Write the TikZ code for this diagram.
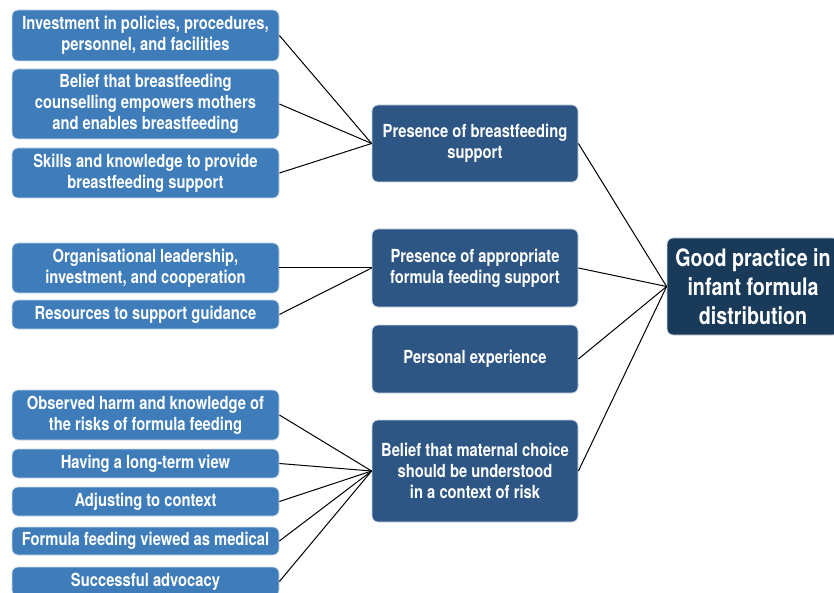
\documentclass[tikz,border=0pt]{standalone}
\usepackage{fontspec}
\setmainfont{TeX Gyre Heros}[FakeStretch=0.82]
\definecolor{leftblue}{RGB}{62,125,186}
\definecolor{midblue}{RGB}{45,86,132}
\definecolor{rightblue}{RGB}{26,58,90}
\definecolor{edgeline}{RGB}{205,218,232}

\begin{document}
\begin{tikzpicture}[x=1pt,y=-1pt,
  box/.style={draw=edgeline,line width=0.8pt,rounded corners=6pt,text=white,align=center,
    font=\bfseries\fontsize{18}{21}\selectfont,inner sep=2pt},
  leftbox/.style={box,fill=leftblue,minimum width=267pt},
  midbox/.style={box,fill=midblue,minimum width=206pt},
  goalbox/.style={box,fill=rightblue,minimum width=172pt,font=\bfseries\fontsize{24}{29}\selectfont}]
\useasboundingbox (0,0) rectangle (834,593);
\node[leftbox,minimum height=51pt,name=n00] at (145.5,35.5) {Investment in policies, procedures,\\personnel, and facilities};
\node[leftbox,minimum height=70pt,name=n01] at (145.5,104) {Belief that breastfeeding\\counselling empowers mothers\\and enables breastfeeding};
\node[leftbox,minimum height=50pt,name=n02] at (145.5,173) {Skills and knowledge to provide\\breastfeeding support};
\node[leftbox,minimum height=50pt,name=n03] at (145.5,268) {Organisational leadership,\\investment, and cooperation};
\node[leftbox,minimum height=29pt,name=n04] at (145.5,314.5) {Resources to support guidance};
\node[leftbox,minimum height=50pt,name=n05] at (145.5,415) {Observed harm and knowledge of\\the risks of formula feeding};
\node[leftbox,minimum height=29pt,name=n06] at (145.5,463.5) {Having a long-term view};
\node[leftbox,minimum height=29pt,name=n07] at (145.5,501.5) {Adjusting to context};
\node[leftbox,minimum height=28pt,name=n08] at (145.5,541) {Formula feeding viewed as medical};
\node[leftbox,minimum height=29pt,name=n09] at (145.5,581.5) {Successful advocacy};
\node[midbox,minimum height=77pt,name=n10] at (475,143.5) {Presence of breastfeeding\\support};
\node[midbox,minimum height=78pt,name=n11] at (475,268) {Presence of appropriate\\formula feeding support};
\node[midbox,minimum height=68pt,name=n12] at (475,359) {Personal experience};
\node[midbox,minimum height=102pt,name=n13] at (475,471) {Belief that maternal choice\\should be understood\\in a context of risk};
\node[goalbox,minimum height=97pt,name=n20] at (753,286.5) {Good practice in\\infant formula\\distribution};
\draw[line width=1pt] (n00.east) -- (n10.west);
\draw[line width=1pt] (n01.east) -- (n10.west);
\draw[line width=1pt] (n02.east) -- (n10.west);
\draw[line width=1pt] (n03.east) -- (n11.west);
\draw[line width=1pt] (n04.east) -- (n11.west);
\draw[line width=1pt] (n05.east) -- (n13.west);
\draw[line width=1pt] (n06.east) -- (n13.west);
\draw[line width=1pt] (n07.east) -- (n13.west);
\draw[line width=1pt] (n08.east) -- (n13.west);
\draw[line width=1pt] (n09.east) -- (n13.west);
\draw[line width=1pt] (n10.east) -- (n20.west);
\draw[line width=1pt] (n11.east) -- (n20.west);
\draw[line width=1pt] (n12.east) -- (n20.west);
\draw[line width=1pt] (n13.east) -- (n20.west);
\end{tikzpicture}
\end{document}
